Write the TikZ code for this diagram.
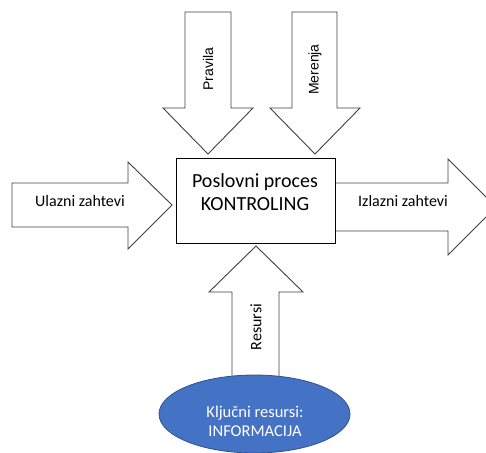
\documentclass[tikz,border=0pt]{standalone}
\usepackage{fontspec}
\usetikzlibrary{shapes.geometric}
\setmainfont{Carlito}
\newfontfamily\arialfont{Liberation Sans}
\definecolor{officeblue}{HTML}{4472C4}
\definecolor{officeblueline}{HTML}{2F528F}
\begin{document}
\begin{tikzpicture}[x=1pt,y=-1pt,
  blockarrow/.style={draw=black!75,line width=0.9pt,fill=white,line join=miter},
  armlabel/.style={font=\fontsize{16}{18}\selectfont, inner sep=0pt},
  sidelabel/.style={font=\arialfont\fontsize{14}{16}\selectfont, inner sep=0pt, rotate=90}]
  \useasboundingbox (0,0) rectangle (486,452);
  \clip (0,0) rectangle (486,452);

  % arrows from above: rules and measurements
  \draw[blockarrow] (185,12) -- (231,12) -- (231,108) -- (253,108) -- (208,154)
        -- (163,108) -- (185,108) -- cycle;
  \draw[blockarrow] (292,12) -- (337,12) -- (337,108) -- (360,108) -- (315,154)
        -- (270,108) -- (292,108) -- cycle;

  % incoming requirements
  \draw[blockarrow] (12,183) -- (128,183) -- (128,162) -- (172,205)
        -- (128,249) -- (128,227) -- (12,227) -- cycle;

  % outgoing requirements
  \draw[blockarrow] (335,183) -- (448,183) -- (448,159) -- (496,207)
        -- (448,255) -- (448,231) -- (335,231) -- cycle;

  % resources, pointing up into the process
  \draw[blockarrow] (232,380) -- (232,292) -- (209,292) -- (256,246)
        -- (303,292) -- (279,292) -- (279,380) -- cycle;

  % the process box
  \node[draw=black, line width=1pt, fill=white, minimum width=159pt, minimum height=85pt,
        anchor=north west, inner sep=0pt] (proc) at (176,158) {};
  \node[font=\fontsize{20}{23.5}\selectfont, align=center, inner sep=0pt]
        (proctext) at (255,192) {Poslovni proces\\KONTROLING};

  % key resources
  \node[ellipse, draw=officeblueline, line width=0.8pt, fill=officeblue,
        minimum width=191pt, minimum height=78pt, inner sep=0pt]
        (res) at (254.5,414) {};
  \node[text=white, font=\fontsize{16.5}{19}\selectfont, align=center, inner sep=0pt]
        (restext) at (255,421) {Ključni resursi:\\INFORMACIJA};

  % arrow labels
  \node[armlabel] (ulaz) at (80,201) {Ulazni zahtevi};
  \node[armlabel] (izlaz) at (403,201) {Izlazni zahtevi};
  \node[sidelabel] (pravila) at (208,69) {Pravila};
  \node[sidelabel] (merenja) at (315,69.5) {Merenja};
  \node[armlabel, rotate=90] (resursi) at (256,327) {Resursi};
\end{tikzpicture}
\end{document}
